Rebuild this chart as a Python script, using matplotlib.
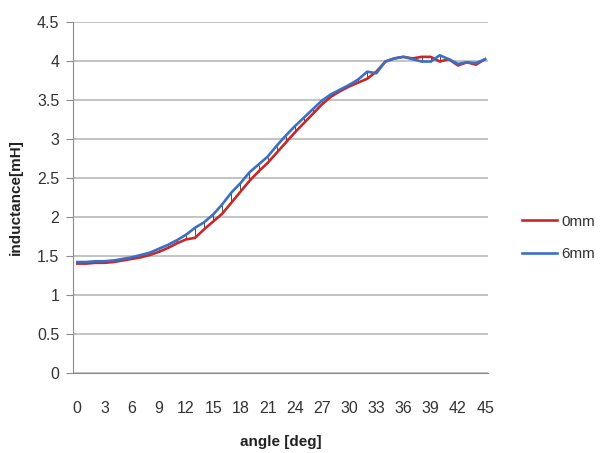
import numpy as np
import matplotlib
matplotlib.use("Agg")
import matplotlib.pyplot as plt

plt.rcParams['font.family'] = ['Liberation Sans', 'DejaVu Sans']

# data
angle = list(range(0, 46))
ticks = list(range(0, 46, 3))
ind_0mm = [1.40, 1.40, 1.41, 1.41, 1.42, 1.44, 1.46, 1.48, 1.51, 1.55,
           1.60, 1.66, 1.71, 1.73, 1.84, 1.94, 2.04, 2.18, 2.32, 2.46,
           2.58, 2.69, 2.82, 2.95, 3.08, 3.20, 3.32, 3.44, 3.54, 3.61,
           3.67, 3.72, 3.77, 3.86, 3.99, 4.03, 4.05, 4.03, 4.05, 4.05,
           3.99, 4.02, 3.94, 3.98, 3.95, 4.02]
ind_6mm = [1.42, 1.42, 1.43, 1.43, 1.44, 1.46, 1.48, 1.51, 1.54, 1.59,
           1.64, 1.70, 1.77, 1.86, 1.93, 2.03, 2.16, 2.31, 2.43, 2.57,
           2.67, 2.77, 2.91, 3.04, 3.16, 3.27, 3.38, 3.49, 3.57, 3.63,
           3.69, 3.76, 3.86, 3.84, 3.99, 4.03, 4.05, 4.02, 3.99, 3.99,
           4.07, 4.02, 3.96, 3.98, 3.97, 4.02]

fig = plt.figure(figsize=(6.05, 4.53), dpi=100)
ax = fig.add_axes([0.121, 0.177, 0.686, 0.775])

# high-low lines between the two series
ax.vlines(angle, np.minimum(ind_0mm, ind_6mm), np.maximum(ind_0mm, ind_6mm),
          colors='#333333', linewidth=0.6, zorder=2)
ax.plot(angle, ind_0mm, color='#C8282A', linewidth=1.9, label='0mm', zorder=3)
ax.plot(angle, ind_6mm, color='#3A70C4', linewidth=1.9, label='6mm', zorder=4)

ax.set_xlim(-0.45, 45.35)
ax.set_ylim(0, 4.5)
ax.set_yticks(np.arange(0, 4.51, 0.5))
ax.set_yticklabels(['0', '0.5', '1', '1.5', '2', '2.5', '3', '3.5', '4', '4.5'])
ax.set_xticks(ticks)
ax.grid(axis='y', color='#BEBEBE', linewidth=1.3)
ax.set_axisbelow(True)

for s in ['top', 'right']:
    ax.spines[s].set_visible(False)
ax.spines['left'].set_color('#8C8C8C')
ax.spines['bottom'].set_color('#8C8C8C')
ax.tick_params(axis='y', length=5, color='#8C8C8C', labelsize=11.5, labelcolor='#333333', pad=5)
ax.tick_params(axis='x', length=0, labelsize=11.5, labelcolor='#333333', pad=20)

ax.set_xlabel('angle [deg]', fontsize=11, fontweight='bold', color='#222222', labelpad=14)
ax.set_ylabel('inductance[mH]', fontsize=11, fontweight='bold', color='#222222', labelpad=10)

fig.legend(loc='center left', bbox_to_anchor=(0.84, 0.475), frameon=False,
           fontsize=11, handlelength=2.3, handletextpad=0.3, labelspacing=1.2,
           labelcolor='#333333')

fig.savefig('out.png', dpi=100)
